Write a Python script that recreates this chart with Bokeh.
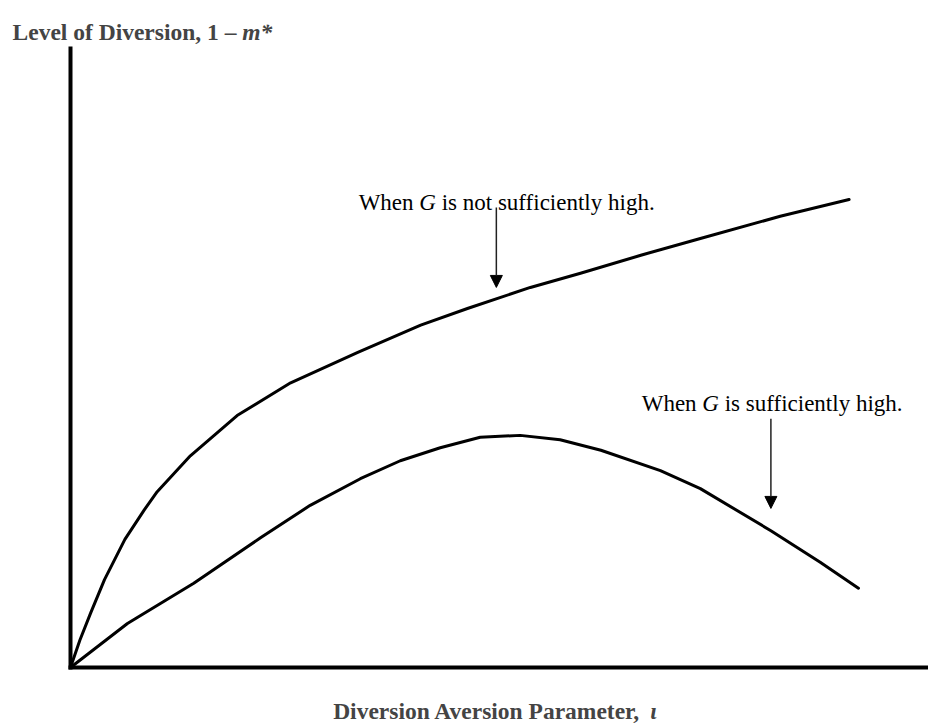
from bokeh.plotting import figure
from bokeh.models import Range1d, FixedTicker, Label, Arrow, NormalHead
from bokeh.embed import file_html
from bokeh.resources import INLINE

# ---- data ----
iota_not_high = [0, 0.11, 0.24, 0.40, 0.64, 0.87, 1.02, 1.41, 1.96, 2.59, 3.38, 4.12, 4.67, 5.41, 6.00, 6.71, 7.41, 8.35, 9.16]
div_not_high = [0, 0.44, 0.89, 1.42, 2.07, 2.55, 2.84, 3.42, 4.07, 4.60, 5.09, 5.53, 5.80, 6.14, 6.37, 6.66, 6.93, 7.29, 7.56]

iota_high = [0, 0.67, 1.45, 2.24, 2.82, 3.41, 3.88, 4.35, 4.82, 5.29, 5.76, 6.24, 6.94, 7.41, 8.24, 8.82, 9.27]
div_high = [0, 0.71, 1.36, 2.10, 2.62, 3.05, 3.34, 3.55, 3.72, 3.75, 3.68, 3.51, 3.18, 2.89, 2.21, 1.70, 1.28]

# annotation anchors: (text x, text baseline y, arrow x, arrow top y, arrow tip y)
note_not_high = (3.39, 7.51, 5.01, 7.43, 6.14)
note_high = (6.72, 4.26, 8.24, 4.02, 2.57)

y_title = ["Level of Diversion, 1 \u2013 ", "m*"]
x_title = ["Diversion Aversion Parameter, ", "\u03b9"]
note_texts_not_high = ["When", "G", "is not sufficiently high."]
note_texts_high = ["When", "G", "is sufficiently high."]

FONT = "Liberation Serif"
W, H = 928, 724
PX_X, PX_Y = 85.0, 61.9          # pixels per data unit
ORIGIN_PX = (70, 667)             # where the axes meet, in page pixels

x_range = Range1d(-ORIGIN_PX[0] / PX_X, (W - ORIGIN_PX[0]) / PX_X)
y_range = Range1d(-(H - ORIGIN_PX[1]) / PX_Y, ORIGIN_PX[1] / PX_Y)

p = figure(width=W, height=H, x_range=x_range, y_range=y_range,
           output_backend="svg", toolbar_location=None, min_border=0)
p.outline_line_color = None
p.xgrid.visible = False
p.ygrid.visible = False
for ax in (p.xaxis, p.yaxis):
    ax.ticker = FixedTicker(ticks=[])
    ax.fixed_location = 0
    ax.axis_line_width = 4
    ax.axis_line_color = "black"
    ax.axis_line_cap = "square"
    ax.major_tick_line_color = None
    ax.minor_tick_line_color = None
    ax.major_tick_out = 0
    ax.minor_tick_out = 0
    ax.major_label_text_font_size = "0px"
p.xaxis.bounds = (0, x_range.end)
p.yaxis.bounds = (0, 10)

p.line(iota_not_high, div_not_high, line_width=3, line_color="black", line_join="round", line_cap="round")
p.line(iota_high, div_high, line_width=3, line_color="black", line_join="round", line_cap="round")

def note(anchor, texts, size=23):
    tx, ty, ax_, ay0, ay1 = anchor
    w_when = 0.001 * size * (944 + 500 + 444 + 500 + 250)
    w_g = 0.001 * size * (722 + 250)
    offs = [0, w_when, w_when + w_g]
    styles = ["normal", "italic", "normal"]
    for t, o, s in zip(texts, offs, styles):
        p.add_layout(Label(x=tx, y=ty, text=t, x_offset=o, text_font=FONT,
                           text_font_size=f"{size}px", text_font_style=s,
                           text_baseline="alphabetic", text_align="left", text_color="black"))
    p.add_layout(Arrow(x_start=ax_, y_start=ay0, x_end=ax_, y_end=ay1,
                       line_width=1.5, line_color="#222222",
                       end=NormalHead(size=12, fill_color="black", line_color="black", line_width=1)))

note(note_not_high, note_texts_not_high)
note(note_high, note_texts_high)

# axis titles
bsize = 23.5
ty_x, ty_y = -0.682, 10.26
p.add_layout(Label(x=ty_x, y=ty_y, text=y_title[0], text_font=FONT, text_font_size=f"{bsize}px",
                   text_font_style="bold", text_baseline="alphabetic", text_align="left"))
p.add_layout(Label(x=ty_x, y=ty_y, x_offset=0.001 * bsize * 9777, text=y_title[1], text_font=FONT,
                   text_font_size=f"{bsize}px", text_font_style="bold italic",
                   text_baseline="alphabetic", text_align="left"))
tx_x, tx_y = 3.09, -0.70
p.add_layout(Label(x=tx_x, y=tx_y, text=x_title[0], text_font=FONT, text_font_size=f"{bsize}px",
                   text_font_style="bold", text_baseline="alphabetic", text_align="left"))
p.add_layout(Label(x=tx_x, y=tx_y, x_offset=0.001 * bsize * 13497, text=x_title[1], text_font=FONT,
                   text_font_size=f"{bsize}px", text_font_style="bold italic",
                   text_baseline="alphabetic", text_align="left"))

open("out.html", "w").write(file_html(p, INLINE))
